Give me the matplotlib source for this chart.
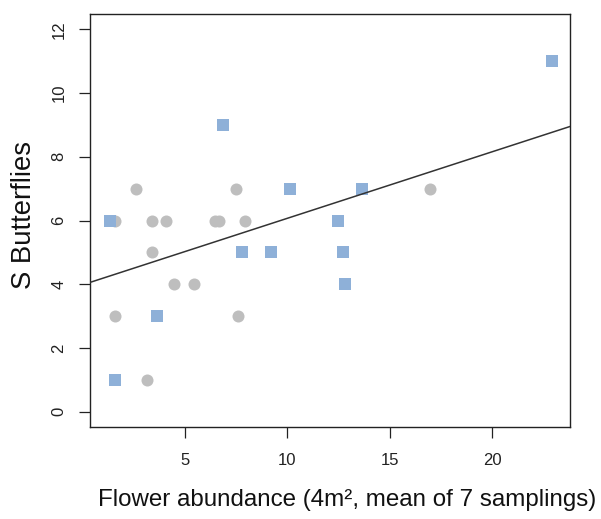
import numpy as np
import matplotlib
matplotlib.use('Agg')
import matplotlib.pyplot as plt

plt.rcParams['font.family'] = ['Liberation Sans', 'DejaVu Sans']

# gray circles (one group)
circle_x = [2.59, 7.47, 1.59, 3.37, 4.09, 6.46, 6.65, 7.94, 3.37, 4.46, 5.45, 1.59, 7.60, 3.15, 16.94]
circle_y = [7, 7, 6, 6, 6, 6, 6, 6, 5, 4, 4, 3, 3, 1, 7]

# blue squares (other group)
square_x = [1.34, 6.84, 10.10, 13.62, 12.48, 7.78, 9.21, 12.72, 12.79, 3.65, 1.59, 22.89]
square_y = [6, 9, 7, 7, 6, 5, 5, 5, 4, 3, 1, 11]

# fitted line
intercept = 3.98
slope = 0.209

x_ticks = [5, 10, 15, 20]
y_ticks = [0, 2, 4, 6, 8, 10, 12]

fig = plt.figure(figsize=(6.01, 5.19), dpi=100)
ax = fig.add_axes([90/601, 1-427/519, 480/601, 413/519])

ax.scatter(circle_x, circle_y, s=75, marker='o', color='#bebebe', linewidths=0, zorder=2)
ax.scatter(square_x, square_y, s=75, marker='s', color='#8eb0d8', linewidths=0, zorder=3)

ax.axline((0, intercept), slope=slope, color='#333333', lw=1.1, zorder=4)
ax.set_xlim(0.37, 23.78)
ax.set_ylim(-0.48, 12.48)

ax.set_xticks(x_ticks)
ax.set_yticks(y_ticks)
ax.tick_params(axis='x', length=8, width=0.9, pad=11, labelsize=12, colors='#222222')
ax.tick_params(axis='y', length=8, width=0.9, pad=9, labelsize=12, colors='#222222',
               labelrotation=90)
for lab in ax.get_yticklabels():
    lab.set_verticalalignment('center')
for sp in ax.spines.values():
    sp.set_linewidth(1.0)
    sp.set_color('#222222')

fig.text(347/601, 1-500/519, 'Flower abundance (4m², mean of 7 samplings)',
         ha='center', va='center', fontsize=17.4, color='#111111')
fig.text(24/601, 1-215/519, 'S Butterflies', ha='center', va='center',
         rotation=90, fontsize=19.8, color='#111111')

fig.savefig('out.png', dpi=100)
